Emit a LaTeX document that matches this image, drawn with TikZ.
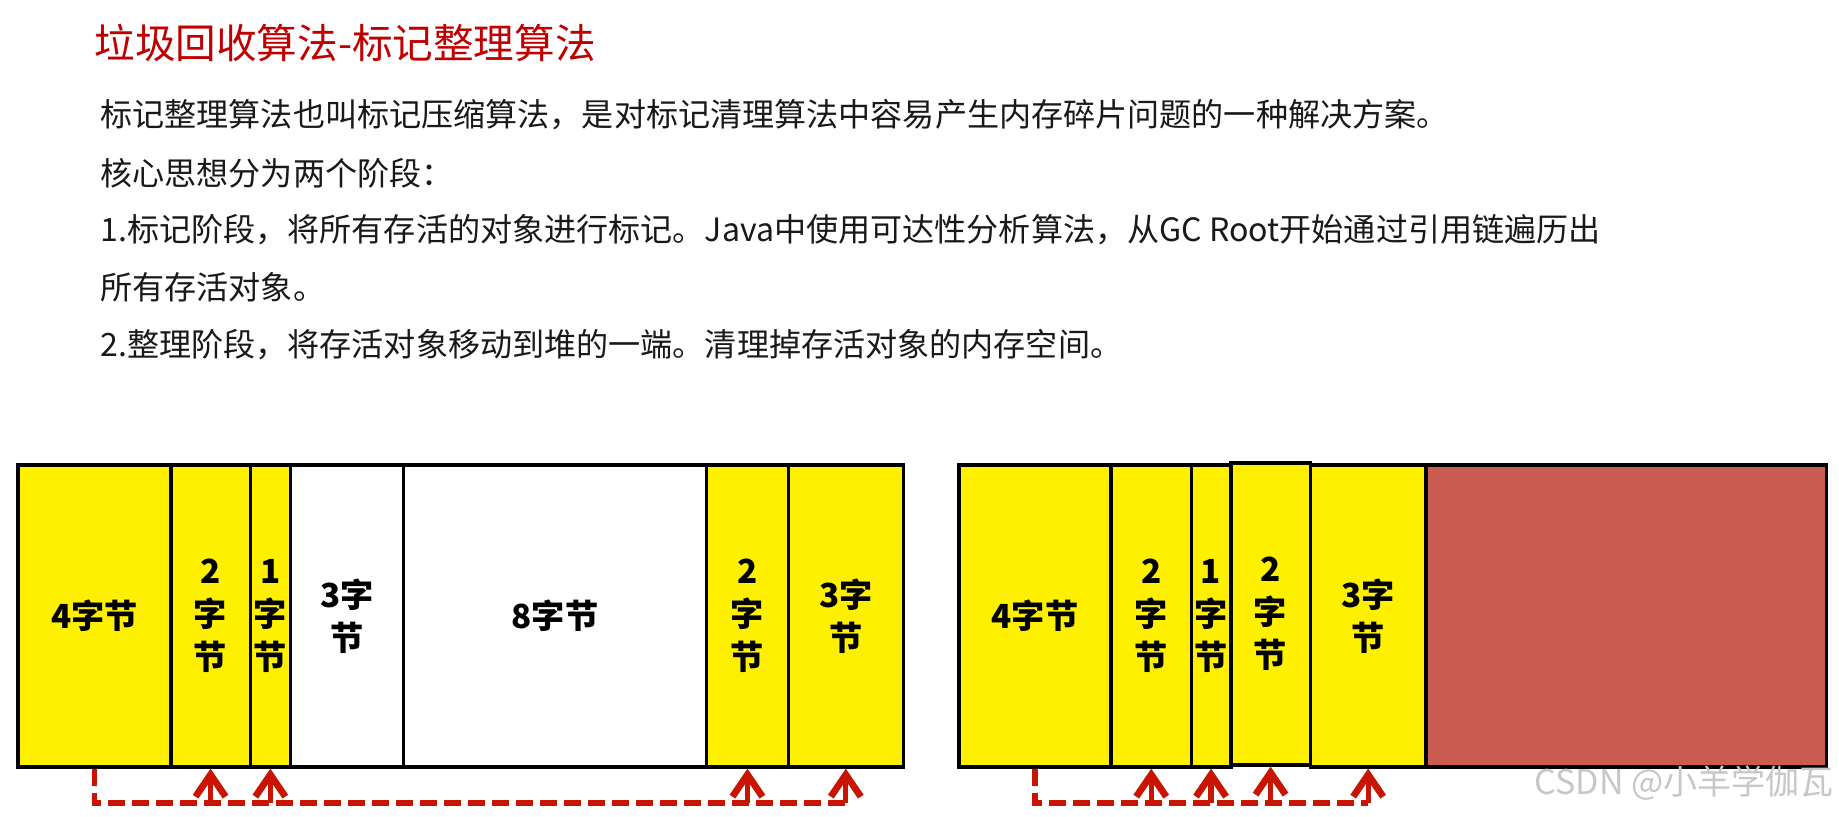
\documentclass[tikz,border=0pt]{standalone}
\usepackage{fontspec}
\setmainfont{Noto Sans CJK SC}
\usetikzlibrary{arrows.meta}

\definecolor{memyellow}{HTML}{FFF000}
\definecolor{freered}{HTML}{C95B50}
\definecolor{arrowred}{HTML}{C81400}
\definecolor{titlered}{HTML}{C00000}

\begin{document}
\begin{tikzpicture}[x=0.5pt, y=-0.5pt,
    cell/.style={draw, line width=1.8pt, inner sep=0pt, anchor=north west,
        minimum height=151pt, align=center,
        font=\fontsize{16.6}{21.5}\selectfont\bfseries},
    line/.style={anchor=west, inner sep=0pt, text=black!90,
        font=\fontsize{16.05}{19}\selectfont},
    lane/.style={draw=arrowred, line width=2.6pt, dash pattern=on 8.5pt off 3.5pt},
    push/.style={draw=arrowred, line width=2.6pt,
        -{Straight Barb[length=11pt, width=15pt, line width=3.4pt]}}]

    \useasboundingbox (0,0) rectangle (1839,816);

    % Titolo e testo
    \node[anchor=west, inner sep=0pt, text=titlered,
        font=\fontsize{20.3}{24}\selectfont] (title) at (94,43) {垃圾回收算法-标记整理算法};
    \node[line] (t1) at (100,115) {标记整理算法也叫标记压缩算法，是对标记清理算法中容易产生内存碎片问题的一种解决方案。};
    \node[line] (t2) at (100,173) {核心思想分为两个阶段：};
    \node[line] (t3) at (100,230) {1.标记阶段，将所有存活的对象进行标记。Java中使用可达性分析算法，从GC Root开始通过引用链遍历出};
    \node[line] (t4) at (100,287) {所有存活对象。};
    \node[line] (t5) at (100,345) {2.整理阶段，将存活对象移动到堆的一端。清理掉存活对象的内存空间。};

    % Memoria prima dell'整理
    \node[cell, fill=memyellow, minimum width=76.25pt] (l1) at (16.4,463) {4字节};
    \node[cell, fill=memyellow, minimum width=39.85pt] (l2) at (168.9,463) {2\\字\\节};
    \node[cell, fill=memyellow, minimum width=19.95pt] (l3) at (248.6,463) {1\\字\\节};
    \node[cell, fill=white, minimum width=56.5pt] (l4) at (288.5,463) {3字\\节};
    \node[cell, fill=white, minimum width=151.65pt] (l5) at (401.5,463) {8字节};
    \node[cell, fill=memyellow, minimum width=40.85pt] (l6) at (704.8,463) {2\\字\\节};
    \node[cell, fill=memyellow, minimum width=57.5pt] (l7) at (786.5,463) {3字\\节};

    % Memoria dopo l'整理
    \node[cell, fill=memyellow, minimum width=76.15pt] (r1) at (957,463) {4字节};
    \node[cell, fill=memyellow, minimum width=40.15pt] (r2) at (1109.3,463) {2\\字\\节};
    \node[cell, fill=memyellow, minimum width=19.65pt] (r3) at (1189.6,463) {1\\字\\节};
    \node[cell, fill=memyellow, minimum width=57.75pt] (r5) at (1308.6,463) {3字\\节};
    \node[cell, fill=freered, minimum width=200.2pt] (r6) at (1424.1,463) {};
    \node[cell, fill=memyellow, minimum width=39.85pt] (r4) at (1228.9,461) {2\\字\\节};

    % Frecce tratteggiate
    \coordinate (laneL) at (0,803);
    \draw[lane] (l1.south) -- (l1.south |- laneL) -- (l7.south |- laneL);
    \draw[push] (l7.south |- laneL) -- (l7.south);
    \draw[push] (l2.south |- laneL) -- (l2.south);
    \draw[push] (l3.south |- laneL) -- (l3.south);
    \draw[push] (l6.south |- laneL) -- (l6.south);

    \draw[lane] (r1.south) -- (r1.south |- laneL) -- (r5.south |- laneL);
    \draw[push] (r5.south |- laneL) -- (r5.south);
    \draw[push] (r2.south |- laneL) -- (r2.south);
    \draw[push] (r3.south |- laneL) -- (r3.south);
    \draw[push] (r4.south |- laneL) -- (r4.south);

    % Filigrana
    \node[anchor=east, inner sep=0pt, text=black!22,
        font=\fontsize{17}{20}\selectfont] (mark) at (1834,783) {CSDN @小羊学伽瓦};

\end{tikzpicture}
\end{document}
